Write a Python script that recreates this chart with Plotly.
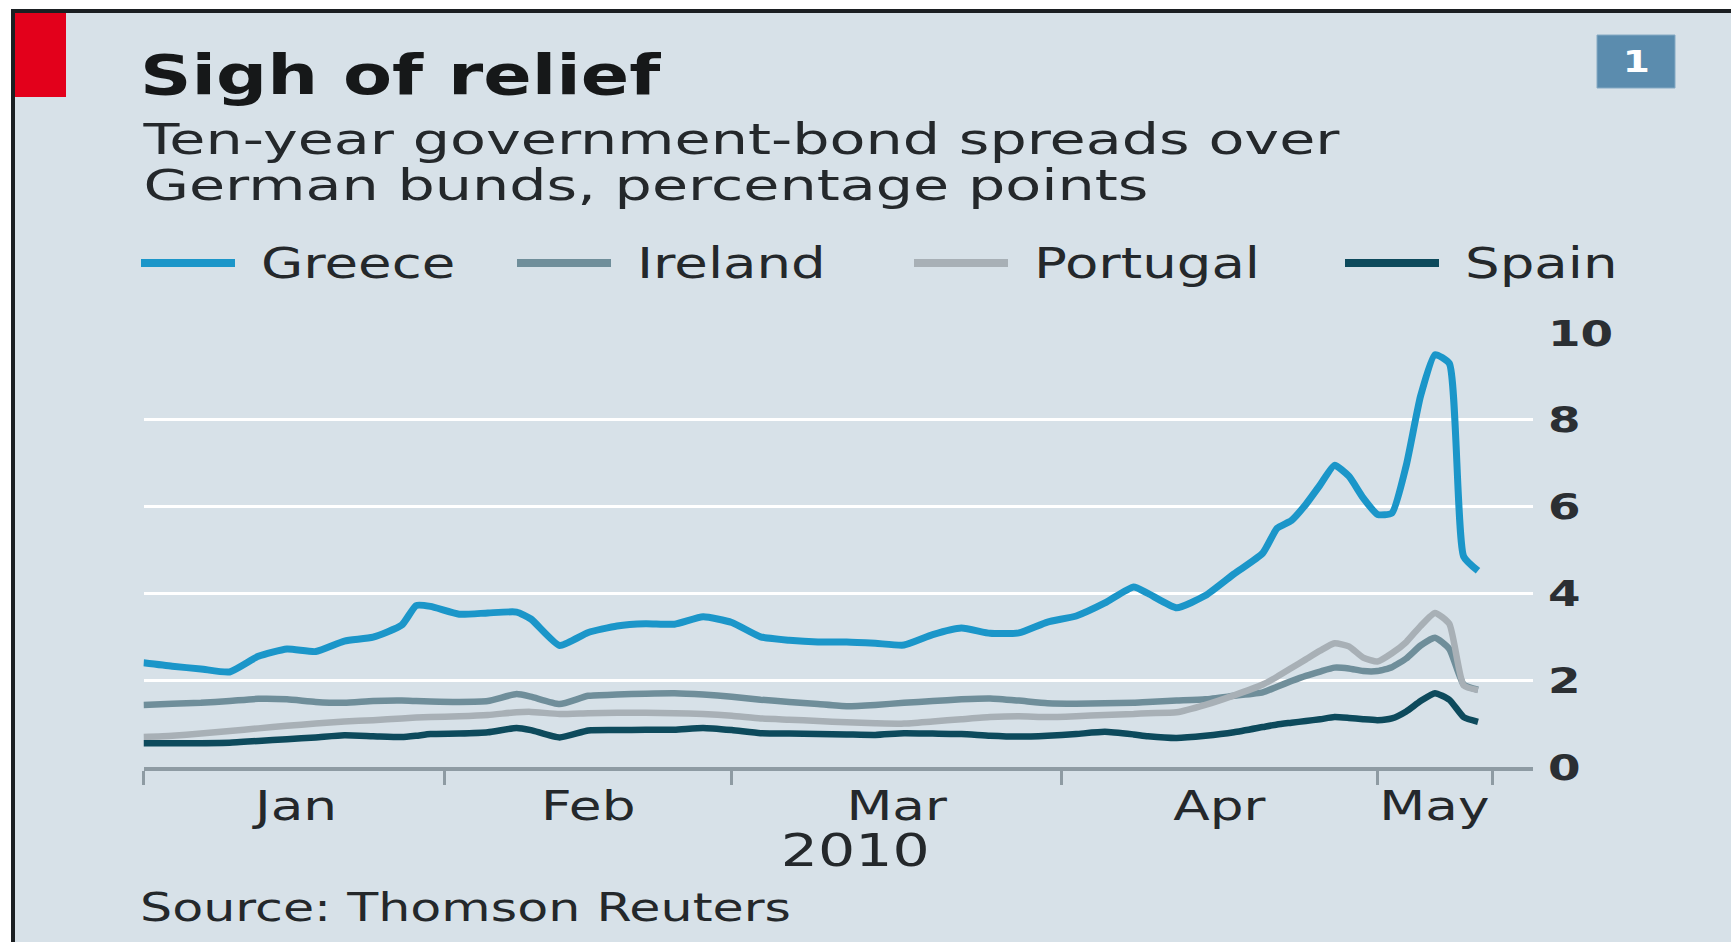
import numpy as np
import pandas as pd
import plotly.graph_objects as go

# ---- data: ten-year spreads over German bunds, percentage points (trading days) ----
dates = [
    "2010-01-01", "2010-01-05", "2010-01-07", "2010-01-11", "2010-01-13", "2010-01-15",
    "2010-01-19", "2010-01-21", "2010-01-25", "2010-01-27", "2010-01-28", "2010-01-29",
    "2010-02-02", "2010-02-04", "2010-02-08", "2010-02-09", "2010-02-11", "2010-02-15",
    "2010-02-17", "2010-02-19", "2010-02-23", "2010-02-25",
    "2010-03-01", "2010-03-03", "2010-03-05", "2010-03-09", "2010-03-11", "2010-03-15",
    "2010-03-17", "2010-03-19", "2010-03-23", "2010-03-25", "2010-03-29", "2010-03-31",
    "2010-04-02", "2010-04-06", "2010-04-08", "2010-04-09", "2010-04-13", "2010-04-15",
    "2010-04-19", "2010-04-21", "2010-04-22", "2010-04-23", "2010-04-26", "2010-04-27",
    "2010-04-28", "2010-04-29", "2010-04-30",
    "2010-05-03", "2010-05-04", "2010-05-05", "2010-05-06", "2010-05-07", "2010-05-10",
    "2010-05-11", "2010-05-12",
]

greece = [
    2.40, 2.32, 2.26, 2.19, 2.55, 2.72, 2.66, 2.90, 2.99, 3.27, 3.72, 3.70,
    3.52, 3.55, 3.57, 3.41, 2.80, 3.10, 3.25, 3.30, 3.29, 3.46,
    3.33, 3.00, 2.92, 2.88, 2.88, 2.85, 2.81, 3.05, 3.20, 3.08, 3.09, 3.34,
    3.48, 3.78, 4.15, 4.00, 3.67, 3.95, 4.45, 4.93, 5.50, 5.68, 6.05, 6.50,
    6.95, 6.70, 6.20,
    5.82, 5.85, 6.95, 8.55, 9.50, 9.30, 4.85, 4.52,
]
ireland = [
    1.43, 1.46, 1.48, 1.52, 1.57, 1.56, 1.50, 1.48, 1.52, 1.53, 1.52, 1.51,
    1.50, 1.52, 1.68, 1.62, 1.45, 1.64, 1.67, 1.69, 1.70, 1.67,
    1.62, 1.55, 1.50, 1.45, 1.40, 1.43, 1.48, 1.52, 1.56, 1.58, 1.53, 1.47,
    1.46, 1.47, 1.48, 1.50, 1.53, 1.56, 1.64, 1.72, 1.85, 1.98, 2.10, 2.20,
    2.29, 2.27, 2.21,
    2.21, 2.30, 2.50, 2.80, 2.98, 2.72, 1.90, 1.78,
]
portugal = [
    0.69, 0.72, 0.77, 0.83, 0.89, 0.95, 1.00, 1.05, 1.08, 1.12, 1.14, 1.15,
    1.17, 1.20, 1.26, 1.27, 1.22, 1.24, 1.25, 1.25, 1.24, 1.22,
    1.18, 1.12, 1.09, 1.06, 1.03, 1.01, 1.00, 1.05, 1.10, 1.15, 1.17, 1.15,
    1.17, 1.20, 1.22, 1.24, 1.26, 1.43, 1.65, 1.90, 2.08, 2.28, 2.48, 2.68,
    2.85, 2.78, 2.52,
    2.43, 2.62, 2.88, 3.25, 3.55, 3.30, 1.88, 1.77,
]
spain = [
    0.55, 0.55, 0.55, 0.56, 0.60, 0.64, 0.68, 0.73, 0.71, 0.69, 0.72, 0.76,
    0.77, 0.80, 0.90, 0.85, 0.68, 0.84, 0.85, 0.86, 0.86, 0.90,
    0.85, 0.78, 0.77, 0.76, 0.75, 0.74, 0.78, 0.77, 0.76, 0.72, 0.70, 0.72,
    0.76, 0.81, 0.75, 0.71, 0.67, 0.72, 0.80, 0.92, 0.98, 1.02, 1.06, 1.10,
    1.15, 1.13, 1.10,
    1.08, 1.12, 1.28, 1.52, 1.70, 1.55, 1.15, 1.04,
]

countries = ["Greece", "Ireland", "Portugal", "Spain"]
# first trading day of each month, plus the close of the period shown
month_ticks = ["2010-01-01", "2010-02-01", "2010-03-01", "2010-04-01", "2010-05-03", "2010-05-13"]
month_names = ["Jan", "Feb", "Mar", "Apr", "May"]
y_ticks = [0, 2, 4, 6, 8, 10]

# ---- styling ----
W, H = 1731, 942
BG = "#d7e1e8"
FONT = "DejaVu Sans"
TEXT = "#24282b"
COLORS = {"Greece": "#1b96c9", "Ireland": "#6f8e9a", "Portugal": "#a8b0b6", "Spain": "#0d4a5c"}
WIDTHS = {"Greece": 7, "Ireland": 6.5, "Portugal": 6.5, "Spain": 6.5}
AXIS_GREY = "#8e9ba3"


def px(x):
    return x / W


def py(y):
    return 1 - y / H


values = {"Greece": greece, "Ireland": ireland, "Portugal": portugal, "Spain": spain}
x_dates = pd.to_datetime(dates)

fig = go.Figure()
for name in ["Ireland", "Portugal", "Spain", "Greece"]:
    fig.add_trace(go.Scatter(
        x=x_dates, y=values[name], mode="lines", name=name,
        line=dict(color=COLORS[name], width=WIDTHS[name], shape="spline", smoothing=0.5),
        showlegend=False, hoverinfo="skip",
    ))

shapes = [
    # white strips and dark frame lines along the top and left edges
    dict(type="rect", xref="paper", yref="paper", x0=0, x1=1, y0=py(9), y1=1,
         fillcolor="white", line_width=0, layer="above"),
    dict(type="rect", xref="paper", yref="paper", x0=0, x1=px(11), y0=0, y1=1,
         fillcolor="white", line_width=0, layer="above"),
    dict(type="rect", xref="paper", yref="paper", x0=px(11), x1=1, y0=py(13), y1=py(9),
         fillcolor="#1b1f22", line_width=0, layer="above"),
    dict(type="rect", xref="paper", yref="paper", x0=px(11), x1=px(15), y0=0, y1=py(9),
         fillcolor="#1b1f22", line_width=0, layer="above"),
    # red corner tab
    dict(type="rect", xref="paper", yref="paper", x0=px(15), x1=px(66), y0=py(97), y1=py(13),
         fillcolor="#e3001b", line_width=0, layer="above"),
    # chart number box
    dict(type="rect", xref="paper", yref="paper", x0=px(1597), x1=px(1675), y0=py(88), y1=py(35),
         fillcolor="#5b8cae", line=dict(color="#86aac4", width=1), layer="above"),
]


def label(text, x, y, size, anchor="left", xref="paper", color=TEXT):
    return dict(text=text, x=x, y=y, xref=xref, yref="paper",
                xanchor=anchor, yanchor="middle",
                align="left" if anchor == "left" else "center", showarrow=False,
                font=dict(family=FONT, size=size, color=color))


annotations = [
    label("<b>Sigh of relief</b>", px(138), py(75), 55, color="#161819"),
    label("Ten-year government-bond spreads over<br>German bunds, percentage points",
          px(140), py(167), 42),
    label("<b>1</b>", px(1636), py(62), 30, anchor="center", color="white"),
    label("2010", px(855), py(850), 45, anchor="center"),
    label("Source: Thomson Reuters", px(138), py(907), 39),
]

# custom legend row
legend_x = [141, 517, 914, 1345]
for name, lx in zip(countries, legend_x):
    shapes.append(dict(type="line", xref="paper", yref="paper", x0=px(lx), x1=px(lx + 94),
                       y0=py(263), y1=py(263), line=dict(color=COLORS[name], width=8)))
    annotations.append(label(name, px(lx + 118), py(263), 42))

# month names centred (in trading days) between month boundaries
tick_days = np.array(month_ticks, dtype="datetime64[D]")
for i, m in enumerate(month_names):
    half = np.busday_count(tick_days[i], tick_days[i + 1]) / 2
    whole = int(half)
    mid = pd.Timestamp(np.busday_offset(tick_days[i], whole, roll="forward")) \
        + pd.Timedelta(hours=24 * (half - whole))
    annotations.append(label(m, mid, py(806), 41, anchor="center", xref="x"))

fig.update_layout(
    width=W, height=H, autosize=False,
    margin=dict(l=0, r=0, t=0, b=0, pad=0, autoexpand=False),
    paper_bgcolor=BG, plot_bgcolor=BG,
    shapes=shapes, annotations=annotations,
    xaxis=dict(
        type="date", domain=[px(143.5), px(1533)], automargin=False,
        range=["2010-01-01", "2010-05-17 20:00"],
        rangebreaks=[dict(bounds=["sat", "mon"])],
        tickvals=month_ticks, showticklabels=False,
        ticks="outside", ticklen=14, tickwidth=3, tickcolor=AXIS_GREY,
        showline=True, linecolor=AXIS_GREY, linewidth=4,
        showgrid=False, zeroline=False,
    ),
    yaxis=dict(
        domain=[py(767), py(333)], range=[0, 10], side="right", automargin=False,
        tickvals=y_ticks, ticks="", ticklabelstandoff=14,
        tickfont=dict(family=FONT, size=36, color="#2b2f33", weight="bold"),
        showgrid=True, gridcolor="white", gridwidth=3, zeroline=False, showline=False,
    ),
)

# widen the lettering horizontally, keeping each label's anchor in place;
# the two subtitle lines sit closer together than the default line height
stretch_js = """
var gd = document.getElementById('{plot_id}');
gd.querySelectorAll('svg text').forEach(function (t) {
  try {
    if (!t.textContent) return;
    var S = 1.3;
    var lines = t.querySelectorAll('tspan.line');
    if (lines.length === 2) { lines[1].setAttribute('dy', '46'); S = 1.4; }
    var b = t.getBBox();
    if (!b.width) return;
    var a = t.getAttribute('text-anchor') || 'start';
    var cx = a === 'middle' ? b.x + b.width / 2 : (a === 'end' ? b.x + b.width : b.x);
    var prev = t.getAttribute('transform') || '';
    t.setAttribute('transform', prev + ' translate(' + cx + ',0) scale(' + S + ',1) translate(' + (-cx) + ',0)');
  } catch (e) {}
});
"""

fig.write_html("out.html", config={"displayModeBar": False}, post_script=stretch_js)
